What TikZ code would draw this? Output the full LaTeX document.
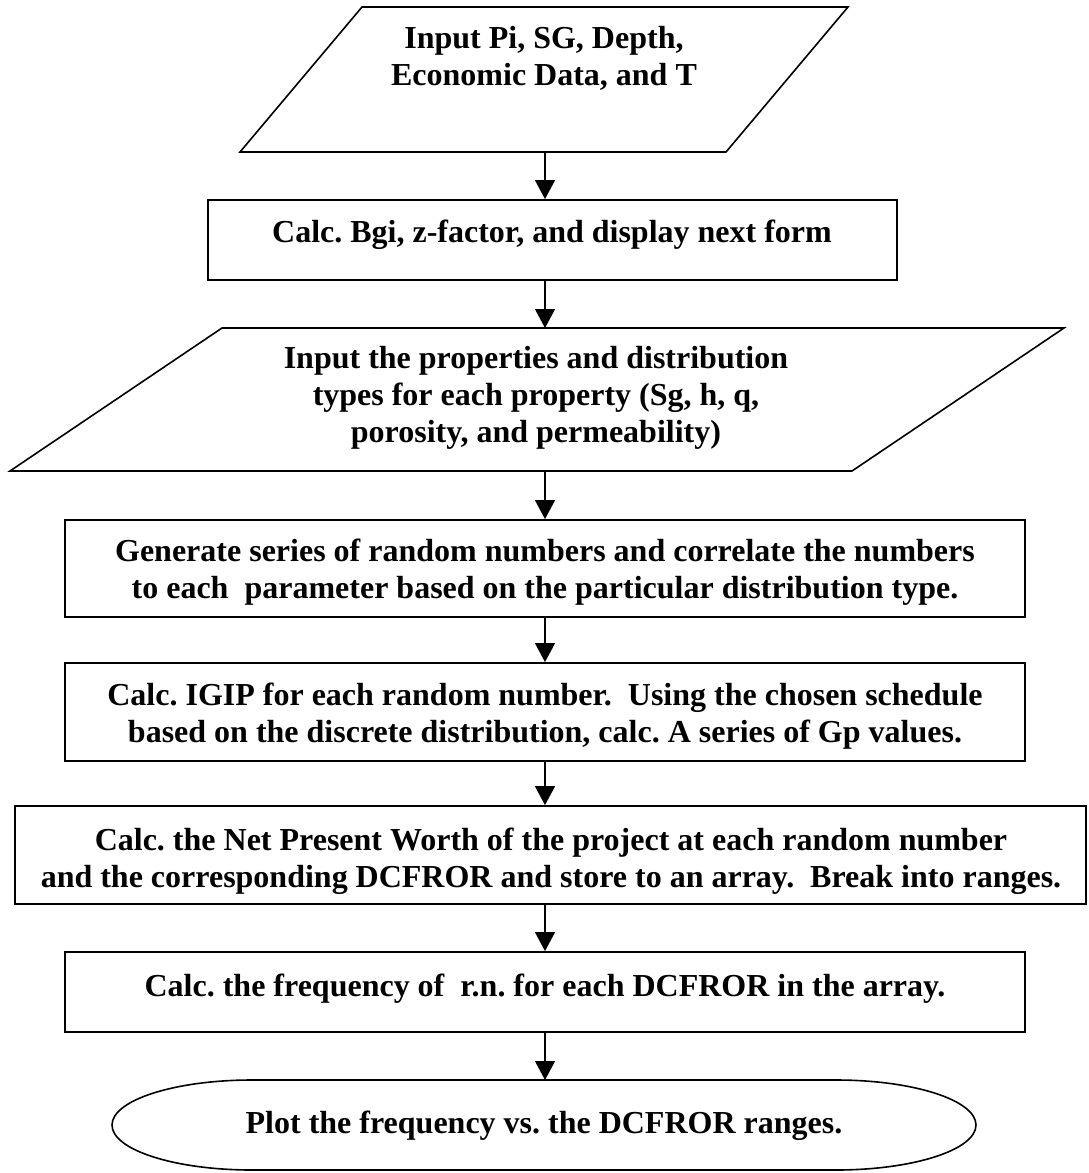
\documentclass[tikz,border=0pt]{standalone}
\usepackage{fontspec}
\setmainfont{Liberation Serif}
\usetikzlibrary{arrows.meta}
\tikzset{
  boxnode/.style={draw, line width=1.8pt, inner sep=0pt},
  ioshape/.style={draw, line width=1.6pt, line join=miter},
  txt/.style={font=\fontsize{32}{37}\selectfont\bfseries\frenchspacing, align=center, inner sep=0pt},
  arr/.style={line width=1.3pt, -{Triangle[length=19pt,width=20pt]}},
}
\begin{document}
\begin{tikzpicture}[x=1pt,y=-1pt]
\useasboundingbox (0,0) rectangle (1088,1173);
% input 1
\draw[ioshape] (362,7) -- (848,7) -- (726,152) -- (240,152) -- cycle;
\coordinate (p1s) at (545,152);
\node[txt] (t1) at (544,58) {Input Pi, SG, Depth,\\Economic Data, and T};
% box 2
\node[boxnode, minimum width=689pt, minimum height=80pt] (r2) at (552.5,240) {};
\node[txt] (t2) at (552,235) {Calc. Bgi, z-factor, and display next form};
% input 2
\draw[ioshape] (222,328) -- (1064,328) -- (852,471) -- (10,471) -- cycle;
\coordinate (p2n) at (545,328);
\coordinate (p2s) at (545,471);
\node[txt] (t3) at (536,398) {Input the properties and distribution\\types for each property (Sg, h, q,\\porosity, and permeability)};
% box 3
\node[boxnode, minimum width=960pt, minimum height=97pt] (r3) at (545,568.5) {};
\node[txt] (t4) at (545,572) {Generate series of random numbers and correlate the numbers\\to each\ \ parameter based on the particular distribution type.};
% box 4
\node[boxnode, minimum width=960pt, minimum height=98pt] (r4) at (545,712) {};
\node[txt] (t5) at (545,716) {Calc. IGIP for each random number.\ \ Using the chosen schedule\\based on the discrete distribution, calc. A series of Gp values.};
% box 5
\node[boxnode, minimum width=1071pt, minimum height=98pt] (r5) at (550.5,855) {};
\node[txt] (t6) at (551,861) {Calc. the Net Present Worth of the project at each random number\\and the corresponding DCFROR and store to an array.\ \ Break into ranges.};
% box 6
\node[boxnode, minimum width=960pt, minimum height=80pt] (r6) at (545,992) {};
\node[txt] (t7) at (545,989) {Calc. the frequency of\ \ r.n. for each DCFROR in the array.};
% terminal
\draw[line width=1.6pt] (252,1080) -- (836,1080) arc[start angle=-90, end angle=90, x radius=140, y radius=45]
  -- (252,1170) arc[start angle=90, end angle=270, x radius=140, y radius=45] -- cycle;
\coordinate (endn) at (545,1080);
\node[txt] (t8) at (544,1126) {Plot the frequency vs. the DCFROR ranges.};
% connectors
\draw[arr] (p1s) -- (p1s |- r2.north);
\draw[arr] (p1s |- r2.south) -- (p2n);
\draw[arr] (p2s) -- (p2s |- r3.north);
\draw[arr] (p2s |- r3.south) -- (p2s |- r4.north);
\draw[arr] (p2s |- r4.south) -- (p2s |- r5.north);
\draw[arr] (p2s |- r5.south) -- (p2s |- r6.north);
\draw[arr] (p2s |- r6.south) -- (endn);
\end{tikzpicture}
\end{document}
